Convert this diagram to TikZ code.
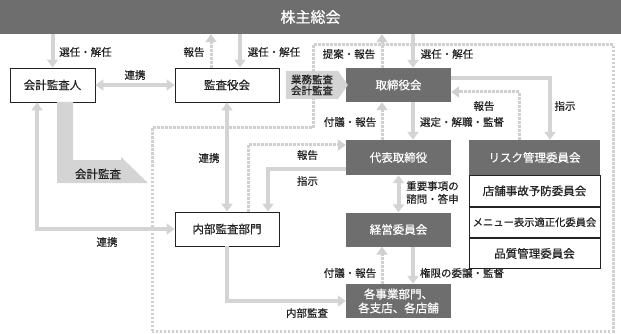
\documentclass[tikz,border=0pt]{standalone}
\usepackage{fontspec}
\setmainfont{Noto Sans CJK JP}[FakeBold=0.5]
\usetikzlibrary{arrows.meta,positioning,calc,shapes.arrows}

\definecolor{boxgray}{HTML}{6E6E6E}
\definecolor{linegray}{HTML}{D4D4D4}
\definecolor{dotgray}{HTML}{D0D0D0}
\definecolor{txtdark}{HTML}{222222}

\begin{document}
\begin{tikzpicture}[x=1pt,y=-1pt,
    whitebox/.style={draw=txtdark, line width=0.8pt, fill=white, inner sep=0pt,
      minimum width=104pt, minimum height=34pt, text=txtdark,
      font=\fontsize{11.5}{13}\selectfont},
    darkbox/.style={fill=boxgray, inner sep=0pt, text=white,
      minimum width=105pt, minimum height=34pt, align=center,
      font=\fontsize{11.5}{14}\selectfont},
    comitbox/.style={whitebox, minimum width=131pt, minimum height=30.5pt, anchor=north},
    lbl/.style={inner sep=0pt, text=txtdark, font=\fontsize{10.5}{12.5}\selectfont},
    solidarr/.style={draw=linegray, line width=4pt, -{Triangle[length=8pt,width=11pt]}},
    bothsolid/.style={draw=linegray, line width=4pt,
      {Triangle[length=8pt,width=11pt]}-{Triangle[length=8pt,width=11pt]}},
    dotline/.style={draw=dotgray, line width=3pt, dash pattern=on 2.5pt off 1.5pt},
    dotarr/.style={dotline, -{Triangle[length=8pt,width=11pt]}}
  ]
  \useasboundingbox (0,0) rectangle (621,334);

  \draw[dotline] (152,331) -- (152,128) -- (313,128) -- (313,45) -- (613,45) -- (613,331) -- cycle;

  \node[darkbox, minimum width=621pt, minimum height=34pt, font=\fontsize{15}{17}\selectfont]
    (kabu) at (310.5,17) {株主総会};

  \node[whitebox, minimum width=85pt] (kaikei) at (52.5,85) {会計監査人};
  \node[whitebox] (kansa) at (227,85) {監査役会};
  \node[darkbox] (tori) at (398.5,85) {取締役会};
  \node[darkbox, minimum height=35pt] (daihyo) at (398.5,157.5) {代表取締役};
  \node[darkbox] (keiei) at (398.5,229.5) {経営委員会};
  \node[darkbox] (jigyo) at (398.5,301) {各事業部門、\\各支店、各店舗};
  \node[whitebox] (naibu) at (227,229) {内部監査部門};

  \node[darkbox, minimum width=131pt, minimum height=35pt] (risk) at (534.5,157.5) {リスク管理委員会};
  \node[comitbox] (tenpo) at (risk.south) {店舗事故予防委員会};
  \node[comitbox, font=\fontsize{10.3}{12}\selectfont] (menu) at (tenpo.south) {メニュー表示適正化委員会};
  \node[comitbox] (hinshitsu) at (menu.south) {品質管理委員会};

  % shareholders
  \draw[solidarr] (kabu.south -| kaikei.north) -- (kaikei.north);
  \draw[dotarr] ([xshift=-16]kansa.north) -- ([xshift=-16]kansa.north |- kabu.south);
  \draw[solidarr] ([xshift=13]kansa.north |- kabu.south) -- ([xshift=13]kansa.north);
  \draw[dotarr] ([xshift=-16.5]tori.north) -- ([xshift=-16.5]tori.north |- kabu.south);
  \draw[solidarr] ([xshift=14.5]tori.north |- kabu.south) -- ([xshift=14.5]tori.north);

  \draw[bothsolid] (kaikei.east) -- (kansa.west);
  \node[single arrow, single arrow head extend=0pt, single arrow tip angle=110,
    fill=linegray, minimum height=62pt, minimum width=28pt, inner sep=0pt,
    align=center, text=txtdark, font=\fontsize{10.5}{11}\selectfont]
    (gyomu) at (312,85) {業務監査\\会計監査};

  % board
  \draw[dotarr] ([xshift=-16.5]daihyo.north) -- ([xshift=-16.5]tori.south);
  \draw[solidarr] ([xshift=14.5]tori.south) -- ([xshift=14.5]daihyo.north);
  \draw[solidarr] ([yshift=7]tori.east) -| ([xshift=15.5]risk.north);
  \draw[dotarr] ([xshift=-15.5]risk.north) |- ([yshift=-7]tori.east);

  \draw[bothsolid] (daihyo.south) -- (keiei.north);
  \draw[dotarr] ([xshift=-16.5]jigyo.north) -- ([xshift=-16.5]keiei.south);
  \draw[solidarr] ([xshift=14.5]keiei.south) -- ([xshift=14.5]jigyo.north);

  % internal audit
  \draw[bothsolid] (kansa.south) -- (naibu.north);
  \draw[dotarr] ([xshift=21]naibu.north) |- ([yshift=12.5]daihyo.west);
  \draw[solidarr] ([yshift=-11.5]daihyo.west) -| ([xshift=41]naibu.north);
  \draw[solidarr] (naibu.south) |- (jigyo.west);
  \draw[bothsolid] (naibu.west) -| ([xshift=-15.5]kaikei.south);

  \fill[linegray] (57,102) -- (73,102) -- (73,160) -- (121,160) -- (121,157)
    -- (148,183) -- (57,183) -- cycle;
  \node[lbl, font=\fontsize{11.5}{13}\selectfont] (kaikeikansa) at (98,174) {会計監査};

  \node[lbl] (sennin1) at (85.5,52) {選任・解任};
  \node[lbl] (hokoku1) at (194,52) {報告};
  \node[lbl] (sennin2) at (274,52) {選任・解任};
  \node[lbl] (teian) at (349,54) {提案・報告};
  \node[lbl] (sennin3) at (447,54) {選任・解任};
  \node[lbl] (renkei1) at (135,75) {連携};
  \node[lbl] (fugi1) at (350,122) {付議・報告};
  \node[lbl] (sentei) at (462,122) {選定・解職・監督};
  \node[lbl] (hokoku2) at (484,106) {報告};
  \node[lbl] (shiji1) at (565,106) {指示};
  \node[lbl] (renkei2) at (209,158) {連携};
  \node[lbl] (hokoku3) at (307.5,155) {報告};
  \node[lbl] (shiji2) at (307.5,181) {指示};
  \node[lbl, anchor=west, align=left, font=\fontsize{10.5}{13}\selectfont]
    (shimon) at (406,192.5) {重要事項の\\諮問・答申};
  \node[lbl] (fugi2) at (350,273) {付議・報告};
  \node[lbl] (kengen) at (462,273) {権限の委譲・監督};
  \node[lbl] (renkei3) at (107,242) {連携};
  \node[lbl] (naibukansa) at (307,313) {内部監査};
\end{tikzpicture}
\end{document}
